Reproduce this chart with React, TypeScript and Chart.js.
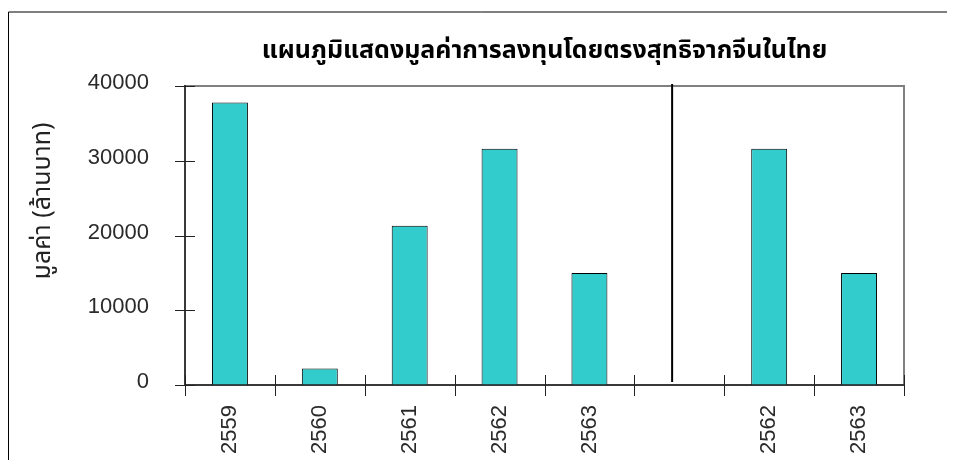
import React, { useEffect, useRef } from "react";
import { Chart, registerables } from "chart.js";

Chart.register(...registerables);

const titleText = "แผนภูมิแสดงมูลค่าการลงทุนโดยตรงสุทธิจากจีนในไทย";
const yAxisTitle = "มูลค่า (ล้านบาท)";
const categories = ["2559", "2560", "2561", "2562", "2563", "", "2562", "2563"];
const investValues: (number | null)[] = [37800, 2200, 21300, 31600, 15000, null, 31600, 15000];
const yTicks = [0, 10000, 20000, 30000, 40000];
const dividerPosition = 4.92;

const W = 947;
const H = 452;

const decorPlugin = {
  id: "decor",
  beforeDraw(chart: any) {
    const { ctx, chartArea: a } = chart;
    ctx.save();
    ctx.strokeStyle = "#000";
    ctx.lineWidth = 1;
    ctx.beginPath();
    ctx.moveTo(0.5, H);
    ctx.lineTo(0.5, 4);
    ctx.lineTo(W, 4);
    ctx.stroke();
    ctx.strokeStyle = "#808080";
    ctx.lineWidth = 2;
    ctx.strokeRect(a.left, a.top, a.right - a.left, a.bottom - a.top);
    ctx.restore();
  },
  afterDraw(chart: any) {
    const { ctx, chartArea: a, scales } = chart;
    const x = scales.x;
    const y = scales.y;
    ctx.save();
    ctx.strokeStyle = "#222";
    ctx.lineWidth = 1.5;
    ctx.beginPath();
    ctx.moveTo(a.left, a.top - 1);
    ctx.lineTo(a.left, a.bottom);
    ctx.lineTo(a.right, a.bottom);
    ctx.stroke();
    ctx.lineWidth = 1;
    ctx.strokeStyle = "#222";
    ctx.beginPath();
    for (let i = 0; i <= categories.length; i++) {
      const px = Math.round(x.getPixelForValue(i - 0.5)) + 0.5;
      ctx.moveTo(px, a.bottom - 10);
      ctx.lineTo(px, a.bottom + 11);
    }
    for (const v of yTicks) {
      const py = Math.round(y.getPixelForValue(v)) + 0.5;
      ctx.moveTo(a.left - 10, py);
      ctx.lineTo(a.left + 10, py);
    }
    ctx.stroke();
    const dx = x.getPixelForValue(dividerPosition);
    ctx.strokeStyle = "#000";
    ctx.lineWidth = 2;
    ctx.beginPath();
    ctx.moveTo(dx, y.getPixelForValue(40000) - 2);
    ctx.lineTo(dx, y.getPixelForValue(0) - 3);
    ctx.stroke();
    ctx.fillStyle = "#000";
    ctx.font = "bold 25px Tahoma, 'Noto Sans Thai', 'Noto Sans', sans-serif";
    ctx.textAlign = "center";
    ctx.textBaseline = "middle";
    ctx.fillText(titleText, (a.left + a.right) / 2, 45);
    ctx.save();
    ctx.translate(37, 193);
    ctx.rotate(-Math.PI / 2);
    ctx.font = "25px Tahoma, 'Noto Sans Thai', 'Noto Sans', sans-serif";
    ctx.fillStyle = "#222";
    ctx.fillText(yAxisTitle, 0, 0);
    ctx.restore();
    ctx.restore();
  },
};

export default function App() {
  const ref = useRef<HTMLCanvasElement | null>(null);
  useEffect(() => {
    if (!ref.current) return;
    const chart = new Chart(ref.current, {
      type: "bar",
      data: {
        labels: categories,
        datasets: [
          {
            data: investValues,
            backgroundColor: "#33CCCC",
            borderColor: "#000",
            borderWidth: 1,
            barPercentage: 0.4,
            categoryPercentage: 1,
          },
        ],
      },
      options: {
        responsive: false,
        animation: false,
        layout: { padding: { top: 78, right: 51, left: 0, bottom: 0 } },
        plugins: { legend: { display: false }, tooltip: { enabled: false } },
        scales: {
          x: {
            grid: { display: false, drawTicks: false },
            border: { display: false },
            ticks: {
              minRotation: 90,
              maxRotation: 90,
              padding: 20,
              color: "#2a2a2a",
              font: { family: "'Liberation Sans', Arial, sans-serif", size: 22 },
            },
            afterFit(scale: any) {
              scale.height = 75;
            },
          },
          y: {
            min: 0,
            max: 40000,
            grid: { display: false, drawTicks: false },
            border: { display: false },
            ticks: {
              stepSize: 10000,
              padding: 36,
              labelOffset: -3,
              color: "#2a2a2a",
              font: { family: "'Liberation Sans', Arial, sans-serif", size: 22 },
              callback: (v: any) => String(v),
            },
            afterFit(scale: any) {
              scale.width = 177;
            },
          },
        },
      },
      plugins: [decorPlugin],
    });
    return () => chart.destroy();
  }, []);
  return (
    <div style={{ width: W, height: H }}>
      <canvas ref={ref} width={W} height={H} style={{ display: "block" }} />
    </div>
  );
}
